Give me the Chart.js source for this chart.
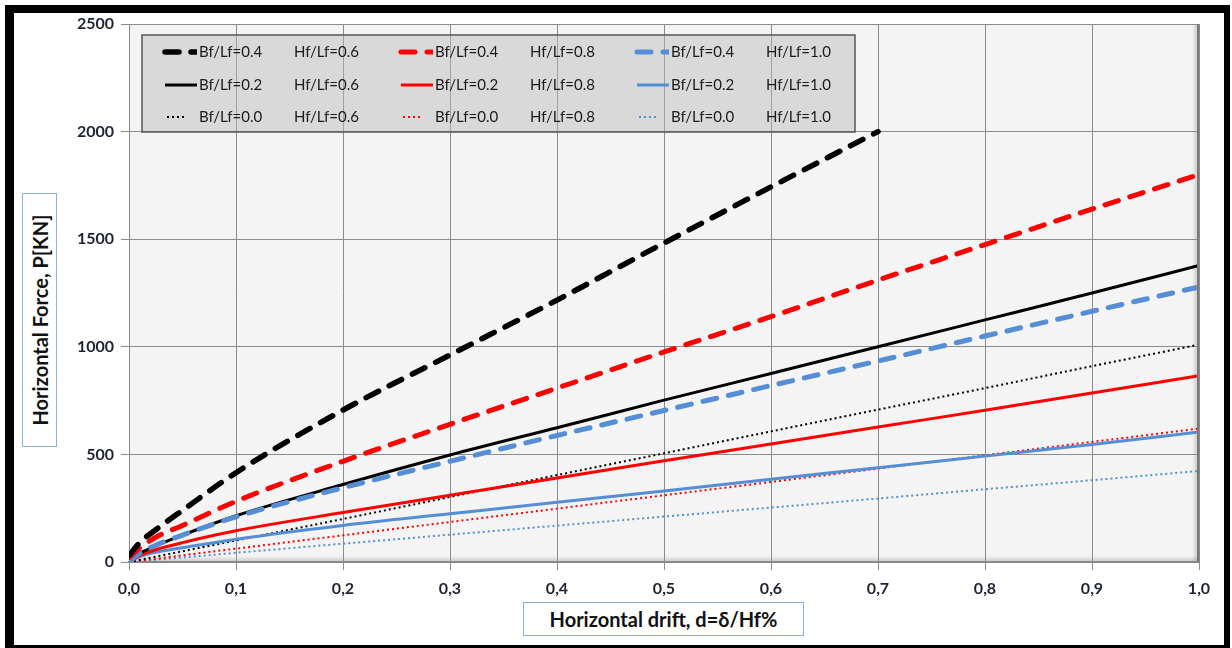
<!DOCTYPE html>
<html>
<head>
<meta charset="utf-8">
<title>Horizontal force vs horizontal drift</title>
<script src="https://cdn.jsdelivr.net/npm/chart.js@4.4.1/dist/chart.umd.min.js"></script>
<style>
  html, body { margin: 0; padding: 0; background: #fff; }
  #wrap { position: relative; width: 1232px; height: 648px; overflow: hidden; }
  #chart { position: absolute; left: 0; top: 0; }
  .frame {
    position: absolute; left: 5px; top: 5px; width: 1225px; height: 644px;
    box-sizing: border-box; border-style: solid; border-color: #000;
    border-width: 8px 6px 4px 9px; pointer-events: none;
  }
  .axis-title {
    position: absolute; box-sizing: border-box; border: 1px solid #8fb0dc; background: #fff;
    font: bold 20px Lato, 'Liberation Sans', sans-serif; color: #111;
    display: flex; align-items: center; justify-content: center; white-space: nowrap;
  }
  #ytitle { left: 22px; top: 193px; width: 35px; height: 254px; }
  #ytitle span { display: inline-block; transform: rotate(-90deg); }
  #xtitle { left: 523px; top: 602px; width: 281px; height: 34px; }
</style>
</head>
<body>
<div id="wrap">
  <canvas id="chart" width="1232" height="648"></canvas>
  <div class="axis-title" id="ytitle"><span>Horizontal Force, P[KN]</span></div>
  <div class="axis-title" id="xtitle">Horizontal drift, d=δ/Hf%</div>
  <div class="frame"></div>
</div>
<script>
// ─────────────────────────────────────────────────────────────────────────────
// Data
// ─────────────────────────────────────────────────────────────────────────────

const DRIFT = [0, 0.01, 0.025, 0.05, 0.1, 0.2, 0.3, 0.4, 0.5, 0.6, 0.7, 0.8, 0.9, 1.0];

const X_TICK_LABELS = ['0,0', '0,1', '0,2', '0,3', '0,4', '0,5', '0,6', '0,7', '0,8', '0,9', '1,0'];
const Y_TICKS = [0, 500, 1000, 1500, 2000, 2500];

// Hf/Lf = 0.6 (black)
const P_H06_B04 = [30, 90, 150, 240, 415, 706, 962, 1217, 1482, 1743, 2000];
const P_H06_B02 = [0, 40, 75, 125, 215, 360, 497, 624, 752, 876, 1000, 1125, 1250, 1378];
const P_H06_B00 = [0, 10, 25, 50, 100, 200, 302, 404, 505, 607, 708, 808, 910, 1010];

// Hf/Lf = 0.8 (red)
const P_H08_B04 = [20, 65, 115, 170, 282, 468, 640, 808, 976, 1140, 1310, 1475, 1640, 1800];
const P_H08_B02 = [0, 30, 57, 90, 145, 230, 310, 390, 470, 548, 627, 705, 785, 865];
const P_H08_B00 = [0, 6, 15, 31, 62, 124, 186, 248, 310, 372, 434, 496, 558, 620];

// Hf/Lf = 1.0 (blue)
const P_H10_B04 = [0, 40, 78, 125, 210, 345, 468, 588, 704, 820, 934, 1050, 1165, 1278];
const P_H10_B02 = [0, 25, 45, 66, 106, 170, 224, 278, 330, 385, 438, 492, 546, 604];
const P_H10_B00 = [0, 4, 11, 21, 43, 85, 127, 169, 211, 253, 295, 338, 380, 423];

const BF_LABELS = ['Bf/Lf=0.4', 'Bf/Lf=0.2', 'Bf/Lf=0.0'];
const HF_LABELS = ['Hf/Lf=0.6', 'Hf/Lf=0.8', 'Hf/Lf=1.0'];

// ─────────────────────────────────────────────────────────────────────────────
// Styles
// ─────────────────────────────────────────────────────────────────────────────

const FONT_FAMILY = "Lato, 'Liberation Sans', sans-serif";
const TICK_COLOR = '#1f2233';
const GRID_COLOR = '#8c8c8c';

const HF_COLORS = ['#000000', '#ff0000', '#558ed5'];

// one style per Bf/Lf row
const LINE_STYLES = [
  { width: 5, dash: [14, 12], cap: 'round' },
  { width: 3, dash: [],       cap: 'butt'  },
  { width: 2, dash: [2, 3],   cap: 'butt'  },
];

// series grid: [Bf row][Hf column]
const SERIES = [
  [P_H06_B04, P_H08_B04, P_H10_B04],
  [P_H06_B02, P_H08_B02, P_H10_B02],
  [P_H06_B00, P_H08_B00, P_H10_B00],
];

const toPoints = (vals) => vals.map((p, i) => ({ x: DRIFT[i], y: p }));

const datasets = [];
SERIES.forEach((row, r) => {
  row.forEach((vals, c) => {
    const st = LINE_STYLES[r];
    datasets.push({
      label: `${BF_LABELS[r]}   ${HF_LABELS[c]}`,
      data: toPoints(vals),
      borderColor: HF_COLORS[c],
      backgroundColor: HF_COLORS[c],
      borderWidth: r === 0 && c === 0 ? 5.5 : st.width,
      borderDash: st.dash,
      borderCapStyle: st.cap,
      pointRadius: 0,
      fill: false,
      cubicInterpolationMode: 'monotone',
      _row: r,
      _col: c,
    });
  });
});

// ─────────────────────────────────────────────────────────────────────────────
// Plugins
// ─────────────────────────────────────────────────────────────────────────────

// Plot-area fill plus the bevel shadow on the right and bottom edges
const plotArea = {
  id: 'plotArea',
  beforeDraw(chart) {
    const { ctx, chartArea: a } = chart;
    ctx.save();
    ctx.fillStyle = '#f4f4f4';
    ctx.fillRect(a.left, a.top, a.right - a.left, a.bottom - a.top);

    let g = ctx.createLinearGradient(a.right - 7, 0, a.right, 0);
    g.addColorStop(0, 'rgba(0,0,0,0)');
    g.addColorStop(1, 'rgba(0,0,0,0.22)');
    ctx.fillStyle = g;
    ctx.fillRect(a.right - 7, a.top, 7, a.bottom - a.top);

    g = ctx.createLinearGradient(0, a.bottom - 6, 0, a.bottom);
    g.addColorStop(0, 'rgba(0,0,0,0)');
    g.addColorStop(1, 'rgba(0,0,0,0.18)');
    ctx.fillStyle = g;
    ctx.fillRect(a.left, a.bottom - 6, a.right - a.left, 6);
    ctx.restore();
  },
  afterDatasetsDraw(chart) {
    const { ctx, chartArea: a } = chart;
    ctx.save();
    ctx.strokeStyle = '#7a7a7a';
    ctx.lineWidth = 2;
    ctx.beginPath();
    ctx.moveTo(a.right - 1, a.top);
    ctx.lineTo(a.right - 1, a.bottom);
    ctx.stroke();
    ctx.restore();
  },
};

// Semi-transparent 3x3 legend box in the top-left of the plot
const legendBox = {
  id: 'legendBox',
  afterDatasetsDraw(chart) {
    const { ctx, chartArea: a } = chart;
    const left = a.left + 13, top = a.top + 11, w = 713, h = 97;
    const colX = [57, 293, 529];
    const rowY = [17, 50, 82];

    ctx.save();
    ctx.fillStyle = 'rgba(184,184,184,0.45)';
    ctx.fillRect(left, top, w, h);
    ctx.strokeStyle = '#555';
    ctx.lineWidth = 1.5;
    ctx.strokeRect(left, top, w, h);

    ctx.font = `15px ${FONT_FAMILY}`;
    ctx.textBaseline = 'middle';
    ctx.fillStyle = '#1a1a1a';

    chart.data.datasets.forEach(ds => {
      const x = left + colX[ds._col];
      const y = top + rowY[ds._row];
      const dotted = ds._row === 2;

      ctx.save();
      ctx.beginPath();
      ctx.rect(x - 40, y - 6, dotted ? 28 : 38, 12);
      ctx.clip();
      ctx.strokeStyle = ds.borderColor;
      ctx.lineWidth = ds.borderWidth;
      ctx.lineCap = ds.borderCapStyle;
      ctx.setLineDash(ds.borderDash);
      ctx.beginPath();
      ctx.moveTo(dotted ? x - 32 : x - 34, y);
      ctx.lineTo(dotted ? x - 12 : x - 2, y);
      ctx.stroke();
      ctx.restore();

      ctx.fillText(BF_LABELS[ds._row], x, y);
      ctx.fillText(HF_LABELS[ds._col], x + 95, y);
    });
    ctx.restore();
  },
};

// ─────────────────────────────────────────────────────────────────────────────
// Chart
// ─────────────────────────────────────────────────────────────────────────────

new Chart(document.getElementById('chart'), { // eslint-disable-line no-undef
  type: 'line',
  data: { datasets },
  plugins: [plotArea, legendBox],
  options: {
    responsive: false,
    animation: false,
    layout: { padding: { left: 69, right: 33, top: 24, bottom: 46 } },
    plugins: {
      legend: { display: false },
      tooltip: { enabled: false },
    },
    scales: {
      x: {
        type: 'linear',
        min: 0,
        max: 1,
        afterFit: (s) => { s.height = 40; },
        afterBuildTicks: (s) => { s.ticks = X_TICK_LABELS.map((_, i) => ({ value: i / 10 })); },
        grid: { color: GRID_COLOR, lineWidth: 1, tickLength: 8 },
        border: { color: '#888', width: 2 },
        ticks: {
          color: TICK_COLOR,
          padding: 9,
          maxRotation: 0,
          font: { family: FONT_FAMILY, size: 16, weight: 'bold' },
          callback: (v, i) => X_TICK_LABELS[i],
        },
      },
      y: {
        min: 0,
        max: 2500,
        afterFit: (s) => { s.width = 60; },
        afterBuildTicks: (s) => { s.ticks = Y_TICKS.map(v => ({ value: v })); },
        grid: { color: GRID_COLOR, lineWidth: 1, tickLength: 8 },
        border: { color: '#888', width: 1 },
        ticks: {
          color: TICK_COLOR,
          padding: 7,
          font: { family: FONT_FAMILY, size: 16, weight: 'bold' },
          callback: (v) => String(v),
        },
      },
    },
  },
});
</script>
</body>
</html>
